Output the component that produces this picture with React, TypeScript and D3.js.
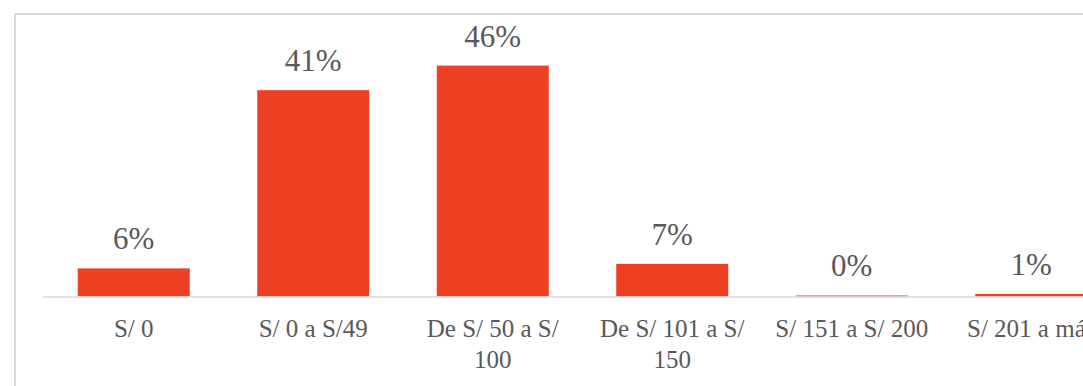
import React, { useEffect, useRef } from "react";
import * as d3 from "d3";

const categories = [
  "S/ 0",
  "S/ 0 a S/49",
  "De S/ 50 a S/ 100",
  "De S/ 101 a S/ 150",
  "S/ 151 a S/ 200",
  "S/ 201 a más",
];
const values = [5.6, 41.1, 46.0, 6.5, 0.2, 0.5];
const valueLabels = ["6%", "41%", "46%", "7%", "0%", "1%"];
const yDomain = [0, 50];

const W = 1083;
const H = 386;

export default function App() {
  const ref = useRef<SVGSVGElement>(null);

  useEffect(() => {
    const svg = d3.select(ref.current);
    svg.selectAll("*").remove();

    const left = 44;
    const right = 44 + 179.5 * 6;
    const baseY = 296.5;
    const topY = baseY - 50 * 5.02;

    const x = d3
      .scaleBand<string>()
      .domain(categories)
      .range([left, right])
      .paddingInner(0.376)
      .paddingOuter(0.188);
    const y = d3.scaleLinear().domain(yDomain).range([baseY, topY]);

    // frame
    svg
      .append("rect")
      .attr("x", 15)
      .attr("y", 14)
      .attr("width", W + 50)
      .attr("height", H + 50)
      .attr("fill", "#ffffff")
      .attr("stroke", "#d9d9d9")
      .attr("stroke-width", 2);

    // bars
    svg
      .append("g")
      .selectAll("rect")
      .data(values)
      .join("rect")
      .attr("x", (_, i) => x(categories[i])!)
      .attr("width", x.bandwidth())
      .attr("y", (d) => y(d))
      .attr("height", (d) => baseY - y(d))
      .attr("fill", "#ee4023");

    // axis line
    svg
      .append("line")
      .attr("x1", left - 1)
      .attr("x2", right)
      .attr("y1", baseY + 0.5)
      .attr("y2", baseY + 0.5)
      .attr("stroke", "#d9d9d9")
      .attr("stroke-width", 1.5);

    // data labels
    svg
      .append("g")
      .selectAll("text")
      .data(values)
      .join("text")
      .attr("x", (_, i) => x(categories[i])! + x.bandwidth() / 2)
      .attr("y", (d) => y(d) - 19)
      .attr("text-anchor", "middle")
      .attr("font-family", "'Liberation Serif', 'Times New Roman', serif")
      .attr("font-size", 31)
      .attr("fill", "#595959")
      .text((_, i) => valueLabels[i]);

    // category labels with wrapping
    const maxW = 166;
    const g = svg.append("g");
    categories.forEach((c) => {
      const cx = x(c)! + x.bandwidth() / 2;
      const t = g
        .append("text")
        .attr("x", cx)
        .attr("y", 337)
        .attr("text-anchor", "middle")
        .attr("font-family", "'Liberation Serif', 'Times New Roman', serif")
        .attr("font-size", 25)
        .attr("fill", "#595959");
      const words = c.split(" ");
      let line: string[] = [];
      let lineNo = 0;
      let tspan = t.append("tspan").attr("x", cx).attr("y", 337);
      for (const w of words) {
        line.push(w);
        tspan.text(line.join(" "));
        const len = (tspan.node() as SVGTSpanElement).getComputedTextLength();
        if (len > maxW && line.length > 1) {
          line.pop();
          tspan.text(line.join(" "));
          line = [w];
          lineNo++;
          tspan = t
            .append("tspan")
            .attr("x", cx)
            .attr("y", 337 + lineNo * 31)
            .text(w);
        }
      }
    });
  }, []);

  return (
    <svg
      ref={ref}
      width={W}
      height={H}
      style={{ position: "absolute", left: 0, top: 0, background: "#fff" }}
    />
  );
}
